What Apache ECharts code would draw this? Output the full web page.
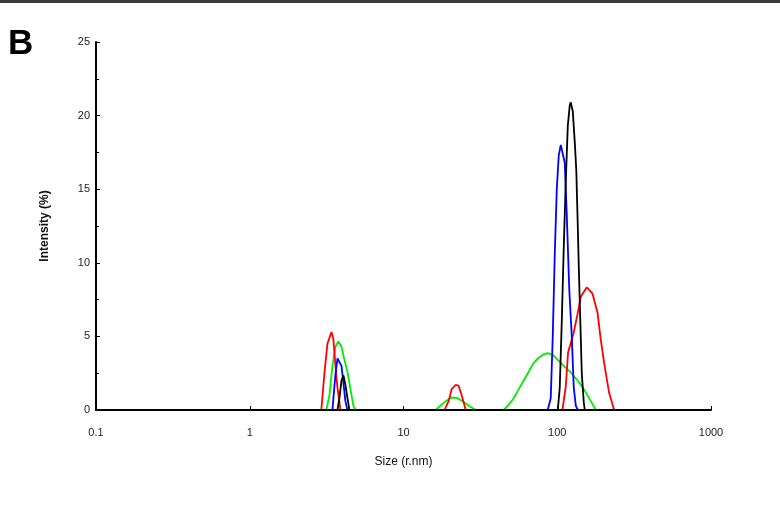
<!DOCTYPE html>
<html>
<head>
<meta charset="utf-8">
<script src="https://cdn.jsdelivr.net/npm/echarts@6/dist/echarts.min.js"></script>
<style>
html,body{margin:0;padding:0;background:#fff;}
#chart{width:780px;height:513px;}
</style>
</head>
<body>
<div id="chart"></div>
<script>
// Size (r.nm) / Intensity (%) pairs, '-' breaks the line between peaks
var redSeries = [
  [2.92,0],[3.06,2.5],[3.20,4.5],[3.40,5.3],[3.50,4.8],[3.61,3.0],[3.72,1.5],[3.89,0],
  [10,'-'],
  [18.5,0],[19.65,0.6],[20.55,1.4],[21.8,1.7],[22.8,1.65],[23.9,1.0],[25.4,0],
  [60,'-'],
  [108.1,0],[113.6,1.6],[117.6,3.9],[127.5,5.2],[135.4,6.5],[142.3,7.7],[155.7,8.34],
  [169.6,7.9],[182.8,6.6],[192.1,4.75],[201.8,3.2],[217.6,1.15],[234.5,0]
];
var greenSeries = [
  [3.15,0],[3.30,1.0],[3.45,3.0],[3.61,4.3],[3.77,4.65],[3.95,4.3],[4.13,3.4],[4.32,2.6],[4.52,1.4],[4.72,0.3],[4.87,0],
  [10,'-'],
  [16.2,0],[17.4,0.3],[18.8,0.6],[20.55,0.85],[22.5,0.8],[24.6,0.55],[26.9,0.25],[29.5,0],
  [35,'-'],
  [44.8,0],[48.3,0.35],[52.1,0.8],[56.1,1.4],[60.5,2.0],[65.2,2.6],[70.3,3.2],[75.8,3.55],[81.7,3.78],
  [86.7,3.87],[93.5,3.75],[100.8,3.4],[110.2,3.0],[122.4,2.55],[138.1,1.9],[151.1,1.3],[165.3,0.6],[178.2,0]
];
var blueSeries = [
  [3.45,0],[3.50,0.8],[3.61,2.4],[3.72,3.5],[3.83,3.6],[3.95,3.0],[4.07,1.8],[4.19,0.6],[4.32,0],
  [30,'-'],
  [86.7,0],[90.7,0.8],[93.5,5.0],[96.3,10.5],[99.3,15.0],[102.3,17.3],[105.4,18.0],[108.6,18.1],
  [111.9,16.8],[115.3,13.3],[119.7,8.2],[124.3,5.0],[128.1,1.5],[132.0,0.3],[136.0,0]
];
var blackSeries = [
  [3.72,0],[3.83,0.8],[3.95,2.0],[4.07,2.35],[4.19,1.7],[4.32,0.8],[4.45,0],
  [30,'-'],
  [100.8,0],[103.8,1.5],[107.0,6],[110.2,11],[113.6,15.5],[117.1,19.3],[120.6,20.7],[122.4,20.9],
  [126.2,20.3],[130.0,18.2],[133.0,16.3],[136.0,12.5],[138.1,9.7],[141.3,6],[144.4,2.5],[148.8,0.5],[151.1,0]
];
var xTickLabels = ['0.1','1','10','100','1000'];
var yTicks = [0,5,10,15,20,25];

var chart = echarts.init(document.getElementById('chart'), null, {renderer:'canvas'});
var font = 'Liberation Sans, Arial, sans-serif';
function line(name, data, color){
  return {name:name, type:'line', data:data, showSymbol:false, symbol:'none', smooth:false,
    connectNulls:false, lineStyle:{color:color, width:1.8}, itemStyle:{color:color}, animation:false, z:2};
}
chart.setOption({
  animation:false,
  backgroundColor:'#fff',
  grid:{left:96, right:69, top:42, bottom:103, containLabel:false},
  xAxis:{
    type:'log', logBase:10, min:0.1, max:1000, z:5,
    name:'Size (r.nm)', nameLocation:'middle', nameGap:46,
    nameTextStyle:{fontFamily:font, fontSize:12, color:'#111'},
    axisLine:{show:true, lineStyle:{color:'#000', width:2}},
    axisTick:{show:true, inside:true, length:4, lineStyle:{color:'#000'}},
    minorTick:{show:false},
    splitLine:{show:false},
    axisLabel:{fontFamily:font, fontSize:11, color:'#222', margin:17,
      formatter:function(v){ var i = Math.round(Math.log10(v))+1; return xTickLabels[i] !== undefined ? xTickLabels[i] : String(v); }}
  },
  yAxis:{
    type:'value', min:yTicks[0], max:yTicks[yTicks.length-1], interval:5, z:5,
    name:'Intensity (%)', nameLocation:'middle', nameGap:45, nameRotate:90,
    nameTextStyle:{fontFamily:font, fontSize:12, color:'#111', fontWeight:'bold'},
    axisLine:{show:true, lineStyle:{color:'#000', width:2}},
    axisTick:{show:true, inside:true, length:4, lineStyle:{color:'#000'}},
    minorTick:{show:true, splitNumber:2, length:3, lineStyle:{color:'#000'}},
    splitLine:{show:false},
    axisLabel:{fontFamily:font, fontSize:11, color:'#222', margin:6}
  },
  graphic:[
    {type:'rect', shape:{x:0, y:0, width:780, height:3}, style:{fill:'#3a3a3a'}, silent:true},
    {type:'text', x:8, y:44, style:{text:'B', font:'bold 35px Liberation Sans, Arial, sans-serif', fill:'#000', textVerticalAlign:'middle', verticalAlign:'middle'}, silent:true}
  ],
  series:[
    line('green', greenSeries, '#00ee00'),
    line('red', redSeries, '#ff0000'),
    line('blue', blueSeries, '#0000ff'),
    line('black', blackSeries, '#000000')
  ]
});
</script>
</body>
</html>
